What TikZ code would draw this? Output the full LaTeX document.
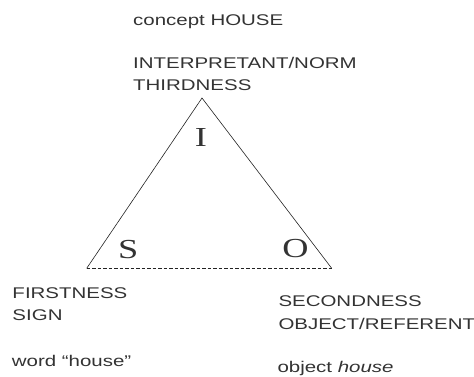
\documentclass[tikz,border=0pt]{standalone}
\usepackage{fontspec}
\setmainfont{Liberation Sans}
\newfontfamily\letterfont{Liberation Serif}
\definecolor{txt}{HTML}{333333}
\definecolor{ln}{HTML}{222222}
\newcommand{\wide}[1]{\scalebox{1.32}[1]{#1}}
\begin{document}
\begin{tikzpicture}[x=1pt,y=-1pt,
  lab/.style={anchor=base west,inner sep=0pt,text=txt,font=\fontsize{15.5}{18}\selectfont},
  letter/.style={anchor=center,inner sep=0pt,text=txt,font=\letterfont\fontsize{27.5}{30}\selectfont},
  edge/.style={draw=ln,line width=0.6pt},
  base/.style={draw=ln,line width=0.6pt,dash pattern=on 3.5pt off 2pt}]
\useasboundingbox (0,0) rectangle (474,376);
\coordinate (A) at (202,98);
\coordinate (L) at (86.7,268.3);
\coordinate (R) at (331.7,268.3);
\draw[edge] (L) -- (A) -- (R);
\draw[base] (L) -- (R);
\node[letter] (I) at (200.8,137.6) {\wide{I}};
\node[letter] (S) at (128.3,249.2) {\wide{S}};
\node[letter] (O) at (295.5,249) {\wide{O}};
\node[lab] (concept) at (133,25) {\wide{concept HOUSE}};
\node[lab] (interp) at (133,68.3) {\wide{INTERPRETANT/NORM}};
\node[lab] (third) at (133,90.7) {\wide{THIRDNESS}};
\node[lab] (first) at (12.3,298.3) {\wide{FIRSTNESS}};
\node[lab] (sign) at (12.3,320.7) {\wide{SIGN}};
\node[lab] (word) at (11.7,366.7) {\wide{word “house”}};
\node[lab] (second) at (278.3,306.7) {\wide{SECONDNESS}};
\node[lab] (objref) at (278.3,329) {\wide{OBJECT/REFERENT}};
\node[lab] (objh) at (277.3,372.7) {\wide{object \textit{house}}};
\end{tikzpicture}
\end{document}
